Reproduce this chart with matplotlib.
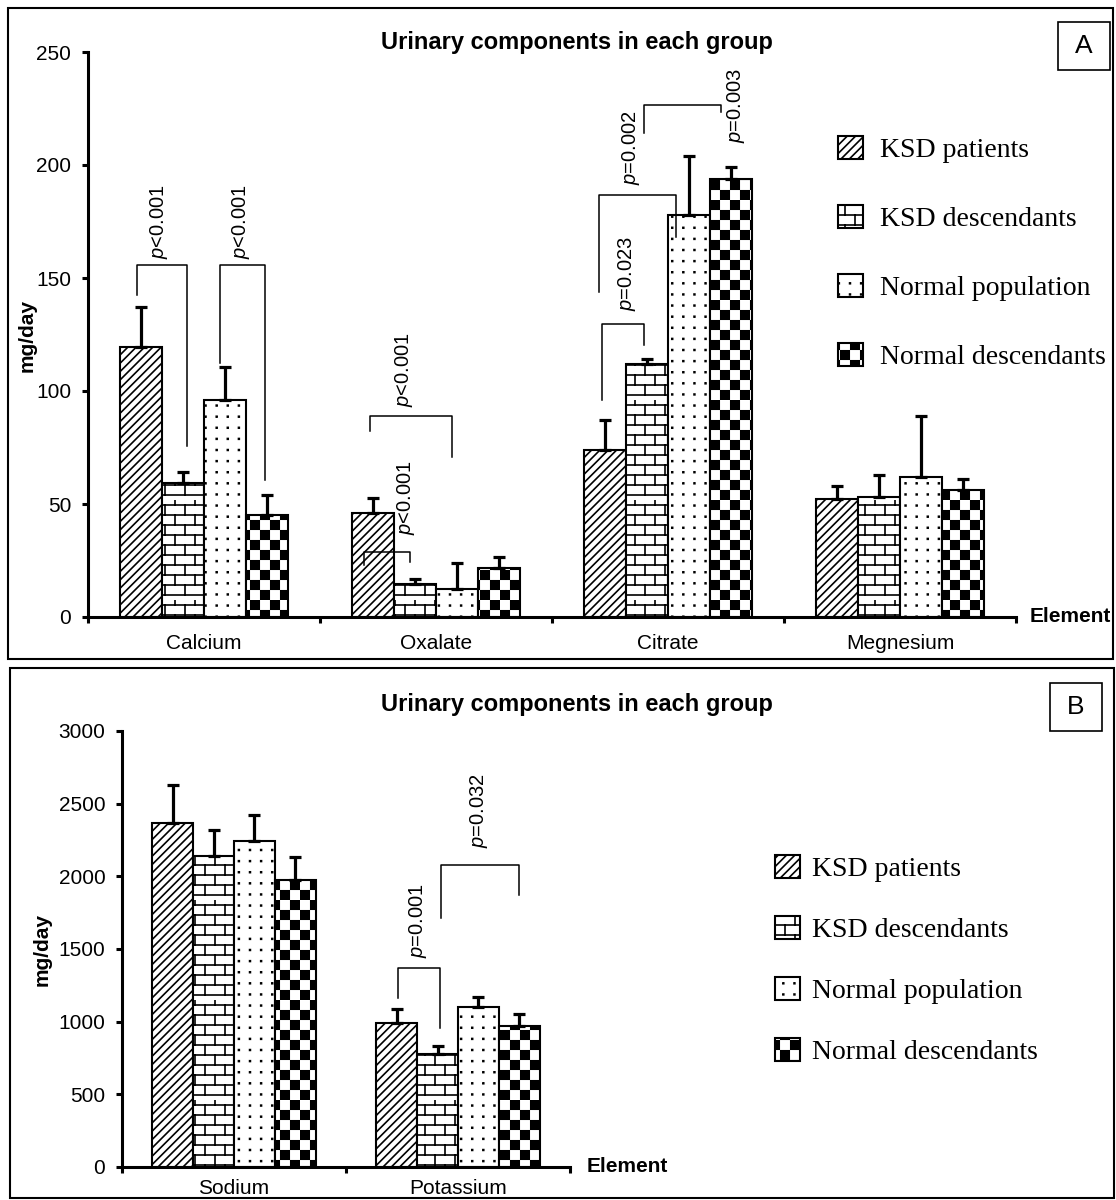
import warnings
import numpy as np
import matplotlib
matplotlib.use('Agg')
import matplotlib.pyplot as plt
from matplotlib import hatch as mhatch
from matplotlib.path import Path
from matplotlib.patches import Rectangle

warnings.filterwarnings('ignore')

# Groups (legend order)
groups = ['KSD patients', 'KSD descendants', 'Normal population', 'Normal descendants']

# Panel A: mean and SD (mg/day)
elements_a = ['Calcium', 'Oxalate', 'Citrate', 'Megnesium']
means_a = [
    [119.6, 46.0, 74.0, 52.0],    # KSD patients
    [59.2, 14.6, 112.0, 53.0],    # KSD descendants
    [96.1, 12.4, 178.0, 62.0],    # Normal population
    [45.3, 21.7, 194.0, 56.0],    # Normal descendants
]
sd_a = [
    [17.7, 6.6, 13.0, 6.0],
    [5.1, 2.2, 2.0, 10.0],
    [14.4, 11.5, 26.0, 27.0],
    [8.8, 4.8, 5.0, 5.0],
]

# Panel B
elements_b = ['Sodium', 'Potassium']
means_b = [
    [2367, 990],
    [2140, 775],
    [2243, 1100],
    [1975, 970],
]
sd_b = [
    [261, 95],
    [180, 60],
    [180, 70],
    [160, 85],
]

# significance brackets: (x1, x2, y, y1_end, y2_end, label, text_x, text_y)
brackets_a = [
    (-0.289, -0.073, 155.8, 142.5, 75.7, '<0.001', -0.194, 174.8),
    (0.069, 0.263, 155.8, 112.4, 60.6, '<0.001', 0.159, 174.8),
    (0.716, 1.069, 89.0, 82.3, 70.8, '<0.001', 0.86, 109.3),
    (0.690, 0.888, 28.8, 23.0, 24.3, '<0.001', 0.871, 52.7),
    (1.716, 1.897, 129.6, 96.0, 120.4, '=0.023', 1.823, 152.2),
    (1.703, 2.034, 186.7, 143.8, 168.1, '=0.002', 1.841, 207.5),
    (1.897, 2.228, 226.5, 214.2, 223.5, '=0.003', 2.293, 226.5),
]
brackets_b = [
    (0.732, 0.920, 1369, 1163, 956, '=0.001', 0.821, 1693),
    (0.924, 1.272, 2078, 1713, 1872, '=0.032', 1.094, 2450),
]


# custom hatch patterns: brick, checkerboard, dots
class BrickHatch(mhatch.HatchPatternBase):
    def __init__(self, hatch, density):
        self.rows = 10 * hatch.count('b')
        self.num_vertices = self.rows * 12
        self.filled = False

    def set_vertices_and_codes(self, vertices, codes):
        h = 1.0 / self.rows
        segs = []
        for r in range(self.rows):
            y0 = r * h + h / 2
            segs.append([(0, y0), (1, y0)])
            shift = h if r % 2 else 0
            for k in range(self.rows // 2):
                x = k * 2 * h + shift + h / 2
                segs.append([(x, y0), (x, y0 + h)])
        vertices[:] = np.array(segs).reshape(-1, 2)
        codes[0::2] = Path.MOVETO
        codes[1::2] = Path.LINETO


class CheckerHatch(mhatch.HatchPatternBase):
    def __init__(self, hatch, density):
        self.n = 10 * hatch.count('k')
        self.num_vertices = (self.n * self.n // 2) * 5
        self.filled = True

    def set_vertices_and_codes(self, vertices, codes):
        s = 1.0 / self.n
        e = 0.008
        sq = []
        for r in range(self.n):
            for c in range(self.n):
                if (r + c) % 2 == 0:
                    x, y = c * s, r * s
                    sq.append([(x + e, y + e), (x + s - e, y + e), (x + s - e, y + s - e),
                               (x + e, y + s - e), (x + e, y + e)])
        vertices[:] = np.array(sq).reshape(-1, 2)
        codes[:] = np.tile([Path.MOVETO, Path.LINETO, Path.LINETO, Path.LINETO,
                            Path.CLOSEPOLY], len(sq))


class DotHatch(mhatch.HatchPatternBase):
    def __init__(self, hatch, density):
        self.n = 9 * hatch.count('d')
        self.num_vertices = self.n * self.n * 5
        self.filled = True

    def set_vertices_and_codes(self, vertices, codes):
        h = 1.0 / self.n
        e = 0.004
        sq = []
        for r in range(self.n):
            y = r * h + h / 2
            for k in range(self.n):
                x = k * h + h / 2
                sq.append([(x - e, y - e), (x + e, y - e), (x + e, y + e),
                           (x - e, y + e), (x - e, y - e)])
        vertices[:] = np.array(sq).reshape(-1, 2)
        codes[:] = np.tile([Path.MOVETO, Path.LINETO, Path.LINETO, Path.LINETO,
                            Path.CLOSEPOLY], len(sq))


mhatch._hatch_types.extend([BrickHatch, CheckerHatch, DotHatch])

hatches = ['////', 'b', 'd', 'k']

plt.rcParams['font.family'] = 'Liberation Sans'
plt.rcParams['mathtext.fontset'] = 'custom'
plt.rcParams['mathtext.it'] = 'Liberation Sans:italic'
plt.rcParams['mathtext.rm'] = 'Liberation Sans'
plt.rcParams['hatch.linewidth'] = 1.2

W, H = 1116, 1200
fig = plt.figure(figsize=(W / 100, H / 100), dpi=100)


def draw_panel(ax, elements, means, sds, width, ymax, ystep, brackets, xpad):
    x = np.arange(len(elements))
    bars = []
    for i in range(4):
        xi = x + (i - 1.5) * width
        b = ax.bar(xi, means[i], width, color='white', edgecolor='black',
                   linewidth=1.5, hatch=hatches[i], zorder=2)
        ax.errorbar(xi, means[i], yerr=[np.zeros(len(xi)), sds[i]], fmt='none',
                    ecolor='black', elinewidth=2.3, capsize=4.5, capthick=2.3, zorder=3)
        bars.append(b)
    for x1, x2, y, y1, y2, lab, tx, ty in brackets:
        ax.plot([x1, x1, x2, x2], [y1, y, y, y2], color='black', lw=1.1, zorder=4)
        ax.text(tx, ty, r'$p$' + lab, rotation=90, ha='center', va='center',
                fontsize=14.5, zorder=5)
    ax.set_xlim(-0.5, len(elements) - 0.5)
    ax.set_ylim(0, ymax)
    ax.set_yticks(np.arange(0, ymax + 1, ystep))
    ax.set_xticks(np.arange(-0.5, len(elements)))
    ax.set_xticklabels([])
    ax.set_xticks(x, minor=True)
    ax.set_xticklabels(elements, minor=True, fontsize=15)
    ax.tick_params(axis='x', which='minor', length=0, pad=xpad)
    ax.tick_params(axis='x', which='major', length=4, width=2.2, direction='out')
    ax.tick_params(axis='y', length=4, width=2.2, labelsize=15, pad=8)
    for s in ['top', 'right']:
        ax.spines[s].set_visible(False)
    for s in ['left', 'bottom']:
        ax.spines[s].set_linewidth(2.2)
    ax.text(1.015, 0, 'Element', transform=ax.transAxes, ha='left', va='center',
            fontsize=15, fontweight='bold')
    return bars


axA = fig.add_axes([88 / W, 1 - 617 / H, 928 / W, 565 / H])
barsA = draw_panel(axA, elements_a, means_a, sd_a, 0.182, 250, 50, brackets_a, 12)
axB = fig.add_axes([122 / W, 1 - 1167 / H, 448 / W, 436 / H])
barsB = draw_panel(axB, elements_b, means_b, sd_b, 0.183, 3000, 500, brackets_b, 9)
axB.texts[-1].set_position((1.038, 0))

# titles and y labels
for yc in [42, 704]:
    fig.text(577 / W, 1 - yc / H, 'Urinary components in each group', ha='center',
             va='center', fontsize=17, fontweight='bold')
fig.text(27 / W, 1 - 335 / H, 'mg/day', rotation=90, ha='center', va='center',
         fontsize=15, fontweight='bold')
fig.text(42 / W, 1 - 949 / H, 'mg/day', rotation=90, ha='center', va='center',
         fontsize=15, fontweight='bold')

# legends
fig.legend(barsA, groups, loc='center left', bbox_to_anchor=(838 / W, 1 - 253 / H),
           frameon=False, borderpad=0, borderaxespad=0, handlelength=0.9,
           handleheight=0.9, handletextpad=0.6, labelspacing=1.5,
           prop={'family': 'Liberation Serif', 'size': 20})
fig.legend(barsB, groups, loc='center left', bbox_to_anchor=(775 / W, 1 - 960 / H),
           frameon=False, borderpad=0, borderaxespad=0, handlelength=0.9,
           handleheight=0.9, handletextpad=0.45, labelspacing=1.23,
           prop={'family': 'Liberation Serif', 'size': 20})

# panel frames and letter boxes
fig.patches.append(Rectangle((8 / W, 1 - 659 / H), 1105 / W, 651 / H, fill=False,
                             lw=1.5, edgecolor='black', transform=fig.transFigure))
fig.patches.append(Rectangle((10 / W, 1 - 1198 / H), 1104 / W, 530 / H, fill=False,
                             lw=1.5, edgecolor='black', transform=fig.transFigure))
for (x0, y0, lab) in [(1058, 22, 'A'), (1050, 683, 'B')]:
    fig.patches.append(Rectangle((x0 / W, 1 - (y0 + 48) / H), 52 / W, 48 / H,
                                 fill=False, lw=1.2, edgecolor='black',
                                 transform=fig.transFigure))
    fig.text((x0 + 26) / W, 1 - (y0 + 24) / H, lab, ha='center', va='center', fontsize=19)

fig.savefig('out.png', dpi=100)
